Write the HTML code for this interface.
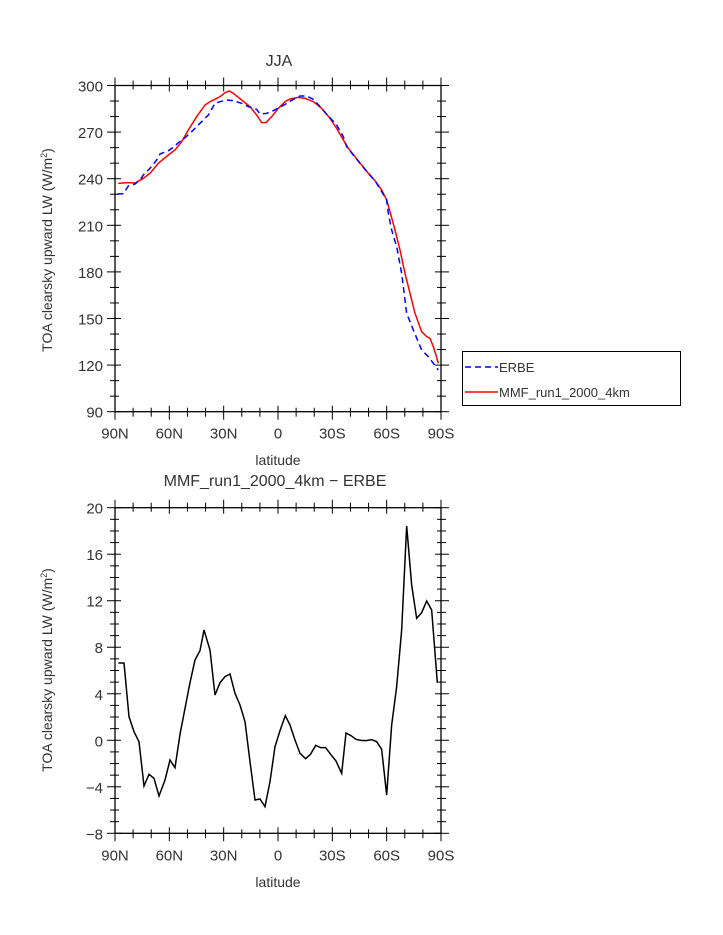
<!DOCTYPE html>
<html><head><meta charset="utf-8"><style>
html,body{margin:0;padding:0;background:#fff;}
svg{display:block;font-family:"Liberation Sans","DejaVu Sans",sans-serif;}
text{fill:#333;}
</style></head><body>
<svg id="s" width="723" height="935" viewBox="0 0 723 935" xmlns="http://www.w3.org/2000/svg">
<text x="279" y="66" font-size="16" text-anchor="middle">JJA</text>
<text x="275" y="486" font-size="16" text-anchor="middle">MMF_run1_2000_4km − ERBE</text>
<text x="278" y="465" font-size="14" text-anchor="middle">latitude</text>
<text x="278" y="887" font-size="14" text-anchor="middle">latitude</text>
<text transform="translate(52,250) rotate(-90)" font-size="14" text-anchor="middle">TOA clearsky upward LW (W/m<tspan font-size="9" dy="-5">2</tspan><tspan dy="5">)</tspan></text>
<text transform="translate(52,670) rotate(-90)" font-size="14" text-anchor="middle">TOA clearsky upward LW (W/m<tspan font-size="9" dy="-5">2</tspan><tspan dy="5">)</tspan></text>
<g id="ax"></g>
<g transform="translate(60,60) scale(0.33333)" fill="none">
<polyline vector-effect="non-scaling-stroke" stroke="#f00" stroke-width="1.5" points="175,370 200,368 225,369 250,355 270,340 295,310 325,285 345,270 365,245 385,210 410,170 435,135 450,125 465,118 480,110 495,98 508,93 520,100 545,120 570,140 590,165 605,188 618,188 635,170 655,145 675,125 690,117 715,112 735,115 760,125 785,145 810,175 830,205 850,240 865,265 885,290 905,315 925,340 945,362 965,390 980,420 990,455 1005,510 1020,570 1035,640 1050,700 1065,760 1085,815 1100,830 1110,835 1120,860 1128,885 1135,910"/>
<polyline vector-effect="non-scaling-stroke" stroke="#00f" stroke-width="1.5" stroke-dasharray="6,4" points="172,402 190,401 205,378 225,372 240,360 250,345 270,325 290,300 300,282 325,272 340,262 355,248 370,238 395,215 420,190 445,165 465,130 480,125 500,120 520,122 545,130 565,140 590,148 600,162 620,160 640,152 660,142 680,130 700,118 720,108 740,108 760,118 780,140 805,168 830,195 850,230 860,260 880,285 900,310 925,340 945,362 965,395 980,420 985,460 995,510 1010,560 1025,640 1040,760 1060,810 1085,870 1105,890 1120,910 1135,930"/>
</g>
<g transform="translate(60,490) scale(0.33333)" fill="none">
<polyline vector-effect="non-scaling-stroke" stroke="#000" stroke-width="1.5" points="175,519 192,519 207,680 222,725 237,755 252,888 267,853 282,865 297,918 315,870 330,810 345,833 360,733 375,655 390,578 405,510 420,482 432,420 450,480 465,615 480,578 495,560 510,552 525,610 540,645 555,695 570,815 585,930 600,927 615,950 630,875 645,770 660,722 676,677 690,705 705,750 720,790 737,806 752,792 767,766 782,773 797,773 812,793 828,813 845,850 858,729 873,737 888,748 903,751 918,752 935,749 950,755 965,778 980,915 995,705 1010,590 1025,420 1040,108 1055,285 1070,385 1085,368 1100,333 1115,360 1132,578"/>
</g>
<rect x="462.5" y="351.5" width="218" height="54" fill="none" stroke="#000" stroke-width="1"/>
<line x1="465" y1="367" x2="498" y2="367" stroke="#00f" stroke-width="1.5" stroke-dasharray="6,4"/>
<line x1="465" y1="392" x2="498" y2="392" stroke="#f00" stroke-width="1.5"/>
<text x="499" y="372" font-size="13">ERBE</text>
<text x="499" y="397" font-size="13">MMF_run1_2000_4km</text>
</svg>
<script>
(function(){
var g=document.getElementById('ax'),NS='http://www.w3.org/2000/svg';
function el(t,a,txt){var e=document.createElementNS(NS,t);for(var k in a)e.setAttribute(k,a[k]);if(txt!==undefined)e.textContent=txt;g.appendChild(e);}
var x0=115,x1=441;
var xl=['90N','60N','30N','0','30S','60S','90S'];
function panel(y0,y1,vmin,vmax,major,minor){
 el('rect',{x:x0,y:y0,width:x1-x0,height:y1-y0,fill:'none',stroke:'#000','stroke-width':1.3});
 for(var i=0;i<=18;i++){var x=x0+(x1-x0)*i/18,M=i%3==0;
  var o=M?8:5,n=M?6:4;
  el('line',{x1:x,y1:y1-n,x2:x,y2:y1+o,stroke:'#000','stroke-width':1});
  el('line',{x1:x,y1:y0-o,x2:x,y2:y0+n,stroke:'#000','stroke-width':1});
  if(M)el('text',{x:x,y:y1+27,'font-size':15,'text-anchor':'middle'},xl[i/3]);
 }
 for(var v=vmin;v<=vmax+1e-9;v+=minor){var y=y1-(y1-y0)*(v-vmin)/(vmax-vmin),M=Math.abs((v-vmin)%major)<1e-6;
  var o=M?8:5,n=M?6:4;
  el('line',{x1:x0-o,y1:y,x2:x0+n,y2:y,stroke:'#000','stroke-width':1});
  el('line',{x1:x1-n,y1:y,x2:x1+o,y2:y,stroke:'#000','stroke-width':1});
  if(M)el('text',{x:x0-12,y:y+6,'font-size':15,'text-anchor':'end'},v<0?'−'+(-v):String(v));
 }
}
panel(85.5,411.7,90,300,30,10);
panel(507.7,833.3,-8,20,4,1);
})();
</script>
</body></html>
